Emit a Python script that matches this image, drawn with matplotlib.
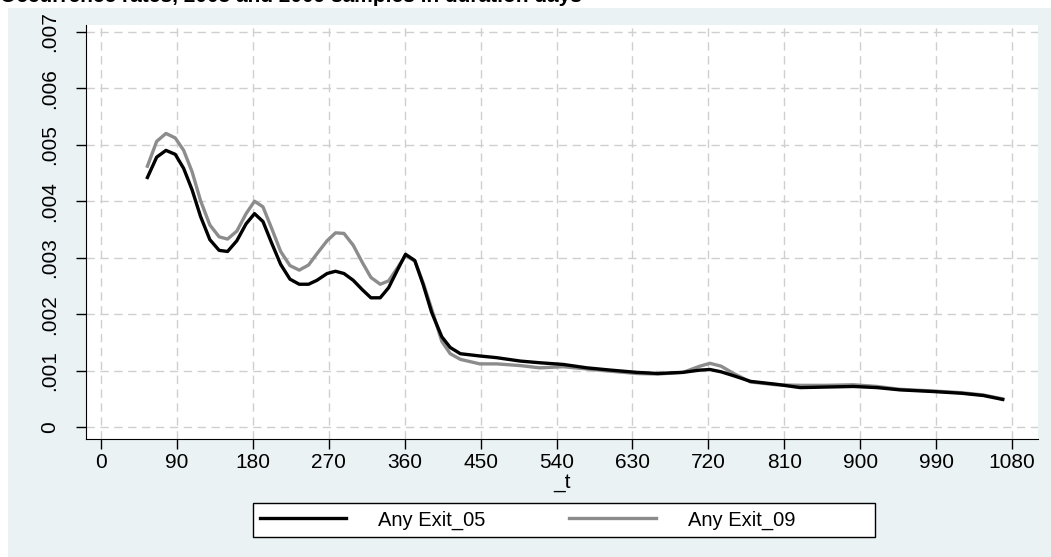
#smoothed exit rates, 2005 vs 2009 samples, by duration in days

import numpy as np
import matplotlib.pyplot as plt
from matplotlib.patches import Rectangle

plt.rcParams['font.family'] = ['Liberation Sans', 'DejaVu Sans']

#duration points (days)
t = [55, 66, 77, 88, 98, 108, 118, 129, 140, 150, 161, 172, 182, 192, 202,
     213, 224, 235, 246, 256, 268, 278, 288, 299, 310, 320, 331, 341, 351,
     361, 372, 382, 392, 404, 414, 426, 449, 469, 497, 520, 548, 576, 604,
     635, 660, 690, 710, 722, 735, 750, 770, 800, 829, 860, 892, 920, 947,
     987, 1020, 1046, 1069]

#rates x 1e-3
exit05 = [4.42, 4.78, 4.90, 4.83, 4.58, 4.20, 3.73, 3.32, 3.13, 3.11, 3.30,
          3.60, 3.78, 3.64, 3.27, 2.88, 2.62, 2.53, 2.53, 2.60, 2.72, 2.76,
          2.72, 2.60, 2.43, 2.29, 2.29, 2.47, 2.77, 3.06, 2.95, 2.52, 2.03,
          1.60, 1.41, 1.30, 1.26, 1.23, 1.17, 1.14, 1.11, 1.05, 1.01, 0.97,
          0.95, 0.97, 1.01, 1.02, 0.98, 0.91, 0.81, 0.76, 0.70, 0.71, 0.72,
          0.70, 0.66, 0.63, 0.60, 0.56, 0.49]
exit09 = [4.62, 5.06, 5.20, 5.12, 4.90, 4.52, 4.01, 3.58, 3.37, 3.33, 3.47,
          3.78, 4.00, 3.90, 3.53, 3.11, 2.86, 2.78, 2.87, 3.07, 3.30, 3.44,
          3.43, 3.22, 2.91, 2.65, 2.53, 2.59, 2.81, 3.04, 2.94, 2.55, 2.09,
          1.52, 1.30, 1.20, 1.12, 1.12, 1.09, 1.05, 1.07, 1.03, 0.99, 0.95,
          0.94, 0.97, 1.08, 1.13, 1.08, 0.95, 0.80, 0.75, 0.74, 0.74, 0.75,
          0.72, 0.67, 0.64, 0.61, 0.57, 0.50]

xticks = list(range(0, 1081, 90))
yticks = [0, 0.001, 0.002, 0.003, 0.004, 0.005, 0.006, 0.007]
ylabels = ['0', '.001', '.002', '.003', '.004', '.005', '.006', '.007']
title = 'Occurrence rates, 2005 and 2009 samples in duration days'

W, H = 1051, 557
fig = plt.figure(figsize=(W/100, H/100), dpi=100, facecolor='white')

#graph region background
fig.patches.append(Rectangle((8/W, 0), 1 - 8/W, 1 - 8/H, transform=fig.transFigure,
                             facecolor='#EAF2F3', edgecolor='none', zorder=-10))
#title, mostly cut off at the top
fig.text(0, 1 - 2/H, title, fontsize=15, fontweight='bold', va='baseline', ha='left')

ax = fig.add_axes([86/W, (H-439)/H, (1038-86)/W, (439-25)/H])
ax.set_zorder(2)
ax.set_facecolor('white')
ax.plot(t, np.array(exit05)*1e-3, color='black', lw=2.4, label='Any Exit_05', zorder=3)
ax.plot(t, np.array(exit09)*1e-3, color='#8C8C8C', lw=2.4, label='Any Exit_09', zorder=2)

ax.set_xlim(-17.8, 1110.8)
ax.set_ylim(-0.00021, 0.00712)
ax.set_xticks(xticks)
ax.set_yticks(yticks)
ax.set_yticklabels(ylabels, rotation=90, va='center')
ax.tick_params(axis='both', labelsize=15, length=7, width=1, direction='out')
ax.tick_params(axis='y', pad=12)
ax.tick_params(axis='x', pad=3)
ax.grid(True, color='#CFCFCF', linestyle=(0, (6, 4)), lw=1)
ax.set_axisbelow(True)
for s in ['top', 'right']:
    ax.spines[s].set_visible(False)
ax.set_xlabel('_t', fontsize=15, labelpad=1)

#trailing blanks give each legend column the wide key area seen in the original
pad = ' ' * 13
leg = fig.legend(loc='center', bbox_to_anchor=(564/W, 1 - 520/H), ncol=2,
                 labels=['Any Exit_05' + pad, 'Any Exit_09' + pad],
                 fontsize=14.5, handlelength=4.3, columnspacing=0.5, handletextpad=1.6,
                 fancybox=False, edgecolor='black', framealpha=1,
                 borderpad=0.35, borderaxespad=0)
leg.get_frame().set_linewidth(1)
leg.set_zorder(3)

plt.savefig('out.png', dpi=100, facecolor=fig.get_facecolor())
